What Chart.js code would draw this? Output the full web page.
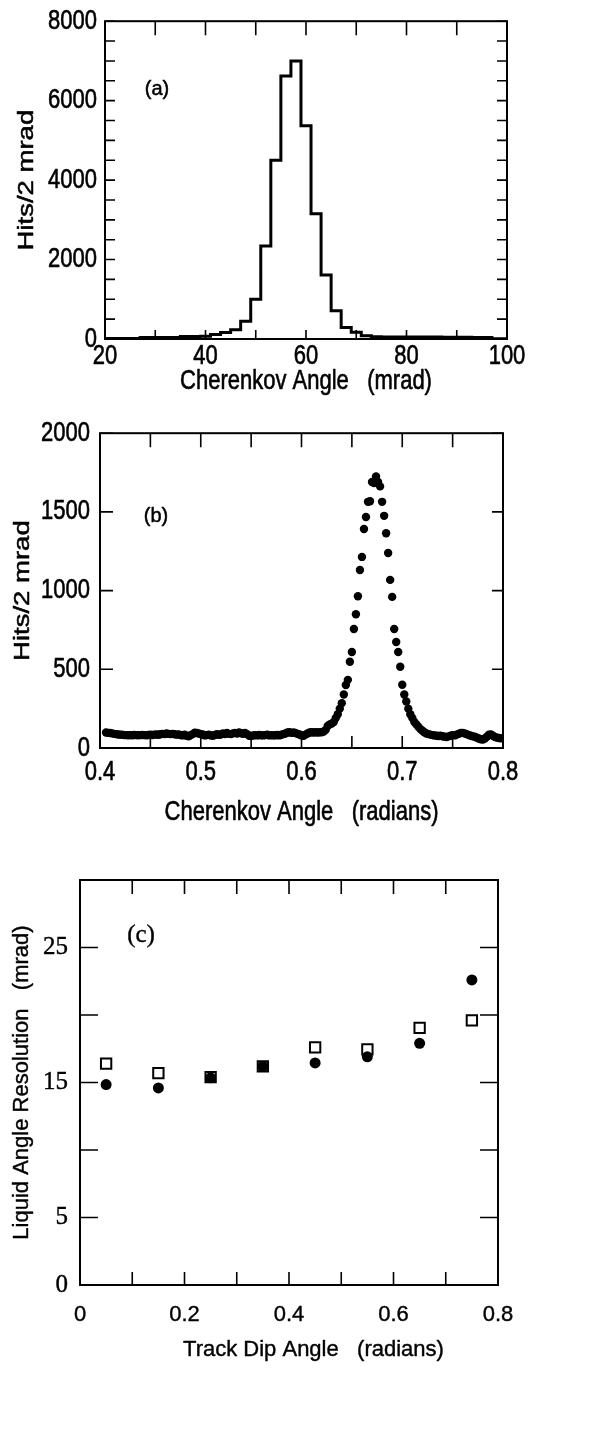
<!DOCTYPE html>
<html>
<head>
<meta charset="utf-8">
<script src="https://cdn.jsdelivr.net/npm/chart.js@4.4.1/dist/chart.umd.min.js"></script>
<style>
html,body{margin:0;padding:0;background:#fff;}
body{width:613px;height:1447px;position:relative;overflow:hidden;}
canvas{position:absolute;left:0;}
</style>
</head>
<body>
<canvas id="ca" width="613" height="410" style="top:0px;width:613px;height:410px"></canvas>
<canvas id="cb" width="613" height="420" style="top:410px;width:613px;height:420px"></canvas>
<canvas id="cc" width="613" height="617" style="top:830px;width:613px;height:617px"></canvas>
<script>
// ---------- Panel (a): histogram, 2 mrad bins ----------
const aBinCenters = [20,22,24,26,28,30,32,34,36,38,40,42,44,46,48,50,52,54,56,58,60,62,64,66,68,70,72,74,76,78,80,82,84,86,88,90,92,94,96,98,100];
const aHits = [15,15,15,15,40,40,40,40,60,60,70,115,165,235,445,1000,2340,4500,6620,7000,5370,3150,1610,710,290,170,80,55,50,50,50,50,50,50,45,45,45,40,40,5,5];
const aXLabels = [20,40,60,80,100];
const aYLabels = [0,2000,4000,6000,8000];

// ---------- Panel (b): hits vs Cherenkov angle (radians) ----------
const bAngle = [
0.406,0.408,0.410,0.412,0.414,0.416,0.418,0.420,0.422,0.424,
0.426,0.428,0.430,0.432,0.434,0.436,0.438,0.440,0.442,0.444,
0.446,0.448,0.450,0.452,0.454,0.456,0.458,0.460,0.462,0.464,
0.466,0.468,0.470,0.472,0.474,0.476,0.478,0.480,0.482,0.484,
0.486,0.488,0.490,0.492,0.494,0.496,0.498,0.500,0.502,0.504,
0.506,0.508,0.510,0.512,0.514,0.516,0.518,0.520,0.522,0.524,
0.526,0.528,0.530,0.532,0.534,0.536,0.538,0.540,0.542,0.544,
0.546,0.548,0.550,0.552,0.554,0.556,0.558,0.560,0.562,0.564,
0.566,0.568,0.570,0.572,0.574,0.576,0.578,0.580,0.582,0.584,
0.586,0.588,0.590,0.592,0.594,0.596,0.598,0.600,0.602,0.604,
0.606,0.608,0.610,0.612,0.614,0.616,0.618,0.620,0.622,0.624,
0.626,0.628,0.630,0.632,0.634,0.636,0.638,0.640,0.642,0.644,
0.646,0.648,0.650,0.652,0.654,0.656,0.658,0.660,0.662,0.664,
0.666,0.668,0.670,0.672,0.674,0.676,0.678,0.680,0.682,0.684,
0.686,0.688,0.690,0.692,0.694,0.696,0.698,0.700,0.702,0.704,
0.706,0.708,0.710,0.712,0.714,0.716,0.718,0.720,0.722,0.724,
0.726,0.728,0.730,0.732,0.734,0.736,0.738,0.740,0.742,0.744,
0.746,0.748,0.750,0.752,0.754,0.756,0.758,0.760,0.762,0.764,
0.766,0.768,0.770,0.772,0.774,0.776,0.778,0.780,0.782,0.784,
0.786,0.788,0.790,0.792,0.794,0.796,0.798];
const bHits = [
98,96,95,93,90,88,86,85,84,82,
82,81,82,81,83,82,81,82,83,82,
81,83,84,83,85,86,84,87,90,88,
92,90,88,90,87,85,86,83,80,84,
78,75,82,88,97,95,92,88,86,80,
82,85,80,78,83,88,84,86,92,88,
95,90,88,93,96,92,98,94,90,95,
88,78,76,80,82,80,83,81,80,82,
84,80,82,80,81,83,80,84,88,92,
98,100,96,98,95,90,86,80,78,85,
92,98,100,98,100,98,100,100,105,115,
140,150,155,165,190,215,250,285,340,400,
433,548,610,756,850,964,1131,1214,1391,1468,
1564,1568,1690,1683,1725,1690,1662,1564,1475,1364,
1239,1068,960,756,673,610,516,402,340,295,
250,215,190,165,150,135,120,110,100,92,
88,85,82,80,78,76,78,75,72,70,
74,78,82,80,85,90,95,96,92,88,
82,78,74,72,65,60,56,54,60,72,
85,86,78,70,66,64,62];
const bXLabels = [0.4,0.5,0.6,0.7,0.8];
const bYLabels = [0,500,1000,1500,2000];

// ---------- Panel (c): resolution vs track dip angle ----------
const cDip = [0.05,0.15,0.25,0.35,0.45,0.55,0.65,0.75];
const cFilled = [14.85,14.6,15.35,16.2,16.45,16.9,17.9,22.6];
const cOpen = [16.4,15.7,15.4,16.2,17.6,17.45,19.05,19.6];
const cXLabels = [0,0.2,0.4,0.6,0.8];
const cYLabels = [0,5,15,25];

// ---------- helpers ----------
const SANS = "'Liberation Sans', Arial, Helvetica, sans-serif";
const SERIF = "'Liberation Serif', 'Times New Roman', Times, serif";
Chart.defaults.color = '#000';
Chart.defaults.font.family = SANS;

// scanned figure: axis lettering is taller than it is wide and a little heavy ->
// stretch glyphs vertically about their anchor and add a hairline outline
function prepContext(id, k, weight) {
  const ctx = document.getElementById(id).getContext('2d');
  const raw = ctx.fillText;
  const rawStroke = ctx.strokeText;
  ctx.rawFillText = function (t, x, y, mw) {
    if (mw === undefined) raw.call(this, t, x, y); else raw.call(this, t, x, y, mw);
    this.save();
    this.strokeStyle = this.fillStyle;
    this.lineWidth = weight;
    this.lineJoin = 'round';
    if (mw === undefined) rawStroke.call(this, t, x, y); else rawStroke.call(this, t, x, y, mw);
    this.restore();
  };
  ctx.fillText = function (t, x, y, mw) {
    if (k === 1) return this.rawFillText(t, x, y, mw);
    const m = this.getTransform();
    const ay = m.b * x + m.d * y + m.f;
    this.save();
    this.setTransform(1, 0, 0, k, 0, (1 - k) * ay);
    this.transform(m.a, m.b, m.c, m.d, m.e, m.f);
    this.rawFillText(t, x, y, mw);
    this.restore();
  };
  return ctx;
}

const frameTicks = {
  id: 'frameTicks',
  afterDatasetsDraw(chart, args, o) {
    const {ctx, chartArea: a} = chart;
    const xs = chart.scales.x, ys = chart.scales.y;
    ctx.save();
    ctx.strokeStyle = '#000';
    ctx.lineWidth = o.tickWidth;
    ctx.beginPath();
    xs.ticks.forEach(t => {
      const p = xs.getPixelForValue(t.value);
      ctx.moveTo(p, a.bottom); ctx.lineTo(p, a.bottom - o.bottom);
      ctx.moveTo(p, a.top); ctx.lineTo(p, a.top + o.top);
    });
    ys.ticks.forEach(t => {
      const p = ys.getPixelForValue(t.value);
      ctx.moveTo(a.left, p); ctx.lineTo(a.left + o.left, p);
      ctx.moveTo(a.right, p); ctx.lineTo(a.right - o.right, p);
    });
    ctx.stroke();
    ctx.lineWidth = o.frameWidth;
    ctx.strokeRect(a.left, a.top, a.right - a.left, a.bottom - a.top);
    ctx.restore();
  }
};

const panelLabel = {
  id: 'panelLabel',
  afterDraw(chart, args, o) {
    const ctx = chart.ctx, a = chart.chartArea;
    ctx.save();
    ctx.font = o.font;
    ctx.fillStyle = '#000';
    ctx.textAlign = 'center';
    ctx.textBaseline = 'middle';
    ctx.rawFillText(o.text, a.left + o.dx, a.top + o.dy);
    ctx.restore();
  }
};

function near(list, v) { return list.some(l => Math.abs(l - v) < 1e-9); }

function baseOptions(pad) {
  return {
    responsive: false, animation: false, devicePixelRatio: 1, events: [],
    layout: {padding: pad},
    plugins: {legend: {display: false}, tooltip: {enabled: false}}
  };
}

// ---------- chart (a) ----------
(function () {
  const ctx = prepContext('ca', 1.25, 0.5);
  const opts = baseOptions({top: 20, left: 0, right: 106, bottom: 0});
  opts.plugins.frameTicks = {top: 14, bottom: 9, left: 10, right: 10, tickWidth: 1.6, frameWidth: 2};
  opts.plugins.panelLabel = {text: '(a)', font: '20px ' + SANS, dx: 52, dy: 68};
  opts.scales = {
    x: {
      type: 'linear', min: 20, max: 100,
      grid: {display: false, drawTicks: false}, border: {display: false},
      ticks: {stepSize: 10, autoSkip: false, maxRotation: 0, padding: 4, font: {size: 22},
              callback: v => near(aXLabels, v) ? String(v) : ''},
      title: {display: true, text: 'Cherenkov Angle   (mrad)', font: {size: 22}, padding: {top: 0, bottom: 15}},
      afterFit: s => { s.height = 71; }
    },
    y: {
      type: 'linear', min: 0, max: 8000,
      grid: {display: false, drawTicks: false}, border: {display: false},
      ticks: {stepSize: 500, autoSkip: false, padding: 8, font: {size: 22},
              callback: v => near(aYLabels, v) ? String(v) : ''},
      title: {display: true, text: 'Hits/2 mrad', font: {size: 22}, padding: {top: 14, bottom: 0}},
      afterFit: s => { s.width = 105; }
    }
  };
  new Chart(ctx, {
    type: 'line',
    data: {datasets: [{
      data: aBinCenters.map((x, i) => ({x: x, y: aHits[i]})),
      stepped: 'middle', borderColor: '#000', borderWidth: 3, pointRadius: 0, fill: false
    }]},
    options: opts,
    plugins: [frameTicks, panelLabel]
  });
})();

// ---------- chart (b) ----------
(function () {
  const ctx = prepContext('cb', 1.25, 0.5);
  const opts = baseOptions({top: 18, left: 0, right: 110, bottom: 0});
  opts.plugins.frameTicks = {top: 14, bottom: 12, left: 13, right: 11, tickWidth: 1.6, frameWidth: 2};
  opts.plugins.panelLabel = {text: '(b)', font: '20px ' + SANS, dx: 56, dy: 83};
  opts.scales = {
    x: {
      type: 'linear', min: 0.4, max: 0.8,
      grid: {display: false, drawTicks: false}, border: {display: false},
      ticks: {stepSize: 0.05, autoSkip: false, maxRotation: 0, padding: 11, font: {size: 22},
              callback: v => near(bXLabels, v) ? v.toFixed(1) : ''},
      title: {display: true, text: 'Cherenkov Angle   (radians)', font: {size: 22}, padding: {top: 0, bottom: 4}},
      afterFit: s => { s.height = 82; }
    },
    y: {
      type: 'linear', min: 0, max: 2000,
      grid: {display: false, drawTicks: false}, border: {display: false},
      ticks: {stepSize: 500, autoSkip: false, padding: 10, font: {size: 22},
              callback: v => near(bYLabels, v) ? String(v) : ''},
      title: {display: true, text: 'Hits/2 mrad', font: {size: 22}, padding: {top: 10, bottom: 0}},
      afterFit: s => { s.width = 100; }
    }
  };
  new Chart(ctx, {
    type: 'scatter',
    data: {datasets: [{
      data: bAngle.map((x, i) => ({x: x, y: bHits[i]})),
      pointRadius: 4.2, pointBackgroundColor: '#000', pointBorderWidth: 0, showLine: false
    }]},
    options: opts,
    plugins: [frameTicks, panelLabel]
  });
})();

// ---------- chart (c) ----------
(function () {
  const ctx = prepContext('cc', 1, 0.4);
  const opts = baseOptions({top: 50, left: 0, right: 115, bottom: 0});
  opts.plugins.frameTicks = {top: 14, bottom: 13, left: 18, right: 18, tickWidth: 1.6, frameWidth: 2};
  opts.plugins.panelLabel = {text: '(c)', font: '25px ' + SERIF, dx: 61, dy: 55};
  opts.scales = {
    x: {
      type: 'linear', min: 0, max: 0.8,
      grid: {display: false, drawTicks: false}, border: {display: false},
      ticks: {stepSize: 0.1, autoSkip: false, maxRotation: 0, padding: 17, font: {size: 22},
              callback: v => near(cXLabels, v) ? (Math.abs(v) < 1e-9 ? '0' : v.toFixed(1)) : ''},
      title: {display: true, text: '\u00a0\u00a0\u00a0\u00a0\u00a0\u00a0\u00a0\u00a0Track Dip Angle   (radians)', font: {size: 22}, padding: {top: 0, bottom: 84}},
      afterFit: s => { s.height = 162; }
    },
    y: {
      type: 'linear', min: 0, max: 30,
      grid: {display: false, drawTicks: false}, border: {display: false},
      ticks: {stepSize: 5, autoSkip: false, padding: 12, font: {size: 25, family: SERIF},
              callback: v => near(cYLabels, v) ? String(v) : ''},
      title: {display: true, text: 'Liquid Angle Resolution   (mrad)', font: {size: 22}, padding: {top: 9, bottom: 0}},
      afterFit: s => { s.width = 80; }
    }
  };
  new Chart(ctx, {
    type: 'scatter',
    data: {datasets: [
      {data: cDip.map((x, i) => ({x: x, y: cFilled[i]})),
       pointStyle: 'circle', pointRadius: 5.5, pointBackgroundColor: '#000', pointBorderWidth: 0},
      {data: cDip.map((x, i) => ({x: x, y: cOpen[i]})),
       pointStyle: 'rect', pointRadius: 7.3, pointBackgroundColor: 'rgba(0,0,0,0)',
       pointBorderColor: '#000', pointBorderWidth: 2}
    ]},
    options: opts,
    plugins: [frameTicks, panelLabel]
  });
})();
</script>
</body>
</html>
